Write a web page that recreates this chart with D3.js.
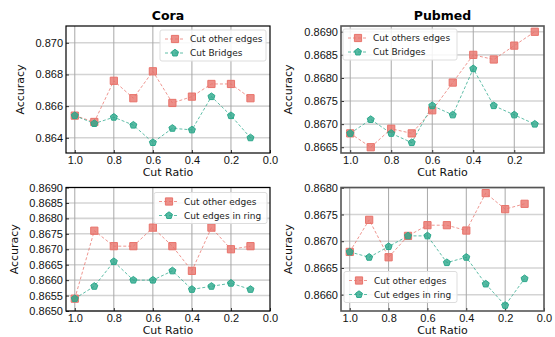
<!DOCTYPE html>
<html>
<head>
<meta charset="utf-8">
<script src="https://cdn.jsdelivr.net/npm/d3@7"></script>
<style>
  body { margin: 0; background: #fff; }
  svg { font-family: "DejaVu Sans", sans-serif; }
  .tick text { font-size: 11px; fill: #111; }
  .legend text { font-size: 9px; fill: #222; }
</style>
</head>
<body>
<svg id="chart" width="555" height="337"></svg>
<script>
const ratios = [1.0, 0.9, 0.8, 0.7, 0.6, 0.5, 0.4, 0.3, 0.2, 0.1];
const xTicks = [1.0, 0.8, 0.6, 0.4, 0.2, 0.0];

const coraOther = [0.8654, 0.8650, 0.8676, 0.8665, 0.8682, 0.8662, 0.8666, 0.8674, 0.8674, 0.8665];
const coraBridges = [0.8654, 0.8649, 0.8653, 0.8648, 0.8637, 0.8646, 0.8645, 0.8666, 0.8654, 0.8640];
const pubmedOther = [0.8668, 0.8665, 0.8669, 0.8668, 0.8673, 0.8679, 0.8685, 0.8684, 0.8687, 0.8690];
const pubmedBridges = [0.8668, 0.8671, 0.8668, 0.8666, 0.8674, 0.8672, 0.8682, 0.8674, 0.8672, 0.8670];
const coraRingOther = [0.8654, 0.8676, 0.8671, 0.8671, 0.8677, 0.8671, 0.8663, 0.8677, 0.8670, 0.8671];
const coraRing = [0.8654, 0.8658, 0.8666, 0.8660, 0.8660, 0.8663, 0.8657, 0.8658, 0.8659, 0.8657];
const pubmedRingOther = [0.8668, 0.8674, 0.8667, 0.8671, 0.8673, 0.8673, 0.8672, 0.8679, 0.8676, 0.8677];
const pubmedRing = [0.8668, 0.8667, 0.8669, 0.8671, 0.8671, 0.8666, 0.8667, 0.8662, 0.8658, 0.8663];

const coraTicks = [0.864, 0.866, 0.868, 0.870];
const pubmedTicks = [0.8665, 0.8670, 0.8675, 0.8680, 0.8685, 0.8690];
const coraRingTicks = [0.8650, 0.8655, 0.8660, 0.8665, 0.8670, 0.8675, 0.8680, 0.8685, 0.8690];
const pubmedRingTicks = [0.8660, 0.8665, 0.8670, 0.8675, 0.8680];

const red = "#e8736b", green = "#2ba88b";
const svg = d3.select("#chart");

// pentagon marker like matplotlib "p"
const pentagon = {
  draw(ctx, size) {
    const r = Math.sqrt(size / 2.38);
    for (let k = 0; k < 5; k++) {
      const a = -Math.PI / 2 + k * 2 * Math.PI / 5;
      const px = r * Math.cos(a), py = r * Math.sin(a);
      if (k === 0) ctx.moveTo(px, py); else ctx.lineTo(px, py);
    }
    ctx.closePath();
  }
};

// one subplot
function panel(o) {
  const g = svg.append("g").attr("transform", "translate(" + o.left + "," + o.top + ")");
  const w = o.width, h = o.height;
  const x = d3.scaleLinear().domain(o.xDomain).range([0, w]);
  const y = d3.scaleLinear().domain(o.yDomain).range([h, 0]);

  // grid
  g.append("g").selectAll("line").data(o.yTicks).join("line")
    .attr("x1", 0).attr("x2", w)
    .attr("y1", d => y(d)).attr("y2", d => y(d))
    .attr("stroke", "#d4d4d4").attr("stroke-width", 1.6);
  g.append("g").selectAll("line").data(xTicks.filter(d => d > 0)).join("line")
    .attr("y1", 0).attr("y2", h)
    .attr("x1", d => x(d)).attr("x2", d => x(d))
    .attr("stroke", "#a8a8a8").attr("stroke-width", 1);

  const xt = xTicks.filter(d => d >= o.xDomain[1] - 1e-9);
  const xa = g.append("g").attr("transform", "translate(0," + h + ")")
    .call(d3.axisBottom(x).tickValues(xt).tickFormat(d3.format(".1f")).tickSizeInner(-3).tickSizeOuter(0).tickPadding(3));
  const ya = g.append("g")
    .call(d3.axisLeft(y).tickValues(o.yTicks).tickFormat(d3.format(o.fmt)).tickSizeInner(-3).tickSizeOuter(0).tickPadding(3));
  [xa, ya].forEach(a => { a.select(".domain").remove(); a.selectAll(".tick line").attr("stroke", "#333"); });

  const lines = [
    { vals: o.a, color: red, size: 52, name: o.aName },
    { vals: o.b, color: green, size: 32, name: o.bName }
  ];
  const sym = i => i === 0 ? d3.symbol(d3.symbolSquare, lines[0].size)() : d3.symbol(pentagon, lines[1].size)();
  lines.forEach(s => {
    const pts = ratios.map((r, i) => [r, s.vals[i]]);
    g.append("path").datum(pts)
      .attr("fill", "none").attr("stroke", s.color).attr("stroke-opacity", 0.75)
      .attr("stroke-width", 1).attr("stroke-dasharray", "3,2")
      .attr("d", d3.line().x(d => x(d[0])).y(d => y(d[1])));
  });
  lines.forEach((s, k) => {
    g.append("g").selectAll("path").data(ratios.map((r, i) => [r, s.vals[i]])).join("path")
      .attr("transform", d => "translate(" + x(d[0]) + "," + y(d[1]) + ")")
      .attr("d", sym(k))
      .attr("fill", s.color).attr("fill-opacity", 0.8)
      .attr("stroke", s.color).attr("stroke-width", 1);
  });

  // frame
  g.append("rect").attr("width", w).attr("height", h).attr("fill", "none")
    .attr("stroke", o.frame).attr("stroke-width", o.frameW);

  // legend
  const lg = g.append("g").attr("class", "legend").attr("transform", "translate(" + o.legX + "," + o.legY + ")");
  lg.append("rect").attr("width", o.legW).attr("height", 31).attr("rx", 2)
    .attr("fill", "#fff").attr("fill-opacity", 0.85).attr("stroke", "#ddd");
  lines.forEach((s, i) => {
    const yy = 9 + i * 14;
    lg.append("line").attr("x1", 5).attr("x2", 25).attr("y1", yy).attr("y2", yy)
      .attr("stroke", s.color).attr("stroke-dasharray", "3,2").attr("stroke-opacity", 0.75);
    lg.append("path").attr("transform", "translate(15," + yy + ")")
      .attr("d", sym(i))
      .attr("fill", s.color).attr("fill-opacity", 0.8).attr("stroke", s.color);
    lg.append("text").attr("x", 30).attr("y", yy).attr("dy", "0.35em").text(s.name);
  });

  if (o.title) {
    svg.append("text").attr("x", o.left + w / 2).attr("y", o.top - 6)
      .attr("text-anchor", "middle").attr("font-weight", "bold").attr("font-size", 12.5).text(o.title);
  }
  svg.append("text").attr("x", o.left + w / 2).attr("y", o.top + h + 23)
    .attr("text-anchor", "middle").attr("font-size", 11).attr("fill", "#111").text("Cut Ratio");
  svg.append("text")
    .attr("transform", "translate(" + o.yLabX + "," + (o.top + h / 2) + ") rotate(-90)")
    .attr("text-anchor", "middle").attr("font-size", 11).attr("fill", "#111").text("Accuracy");
}

panel({ left: 66, top: 26, width: 204, height: 127, xDomain: [1.045, 0], yDomain: [0.86304, 0.87106],
  yTicks: coraTicks, fmt: ".3f", a: coraOther, b: coraBridges,
  aName: "Cut other edges", bName: "Cut Bridges", title: "Cora", frame: "#000", frameW: 1.2,
  legX: 94, legY: 4, legW: 106, yLabX: 24 });

panel({ left: 341, top: 26, width: 203, height: 127, xDomain: [1.045, 0.055], yDomain: [0.866375, 0.869125],
  yTicks: pubmedTicks, fmt: ".4f", a: pubmedOther, b: pubmedBridges,
  aName: "Cut others edges", bName: "Cut Bridges", title: "Pubmed", frame: "#555", frameW: 1.6,
  legX: 2, legY: 3, legW: 114, yLabX: 292 });

panel({ left: 66, top: 187.5, width: 204, height: 123.5, xDomain: [1.045, 0], yDomain: [0.8650, 0.8690],
  yTicks: coraRingTicks, fmt: ".4f", a: coraRingOther, b: coraRing,
  aName: "Cut other edges", bName: "Cut edges in ring", frame: "#000", frameW: 1.2,
  legX: 88, legY: 5, legW: 113, yLabX: 18 });

panel({ left: 341, top: 187.5, width: 203, height: 123.5, xDomain: [1.045, 0], yDomain: [0.865695, 0.868005],
  yTicks: pubmedRingTicks, fmt: ".4f", a: pubmedRingOther, b: pubmedRing,
  aName: "Cut other edges", bName: "Cut edges in ring", frame: "#555", frameW: 1.6,
  legX: 3, legY: 84, legW: 113, yLabX: 292 });
</script>
</body>
</html>
